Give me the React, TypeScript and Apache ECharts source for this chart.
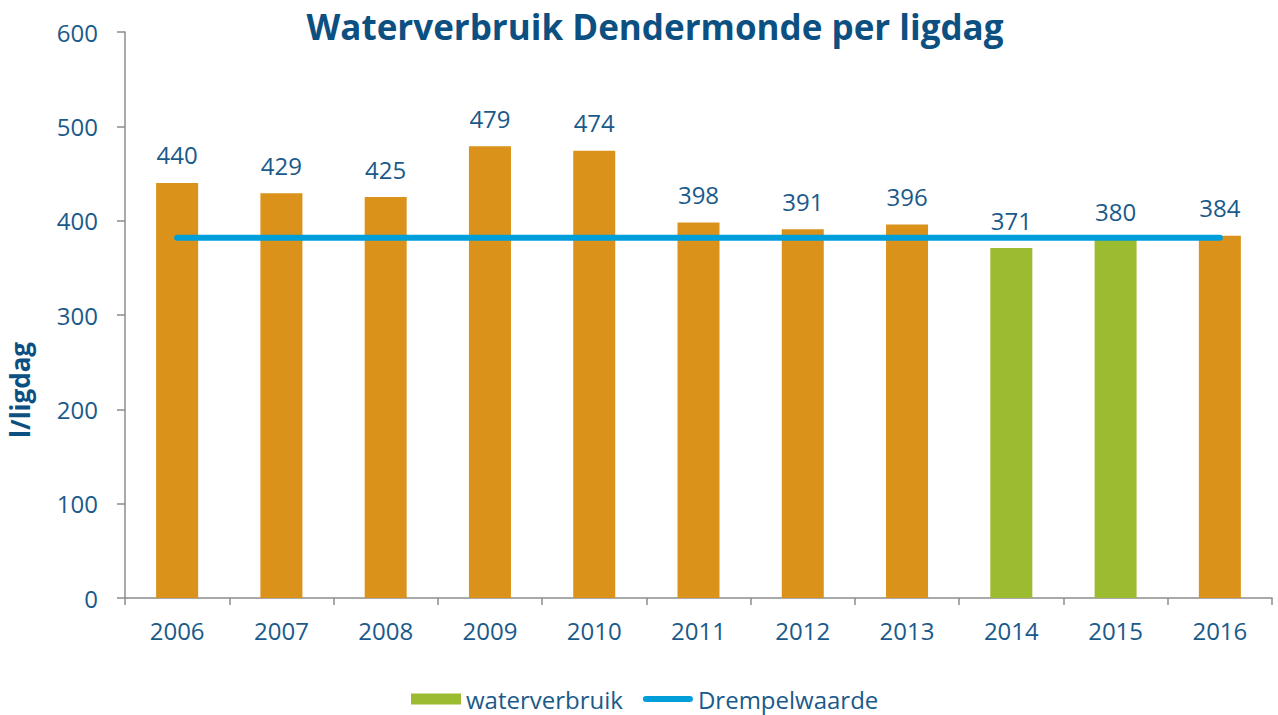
import React, { useEffect, useRef } from "react";
import * as echarts from "echarts";

const years = ["2006", "2007", "2008", "2009", "2010", "2011", "2012", "2013", "2014", "2015", "2016"];
const usage = [440, 429, 425, 479, 474, 398, 391, 396, 371, 380, 384];
const greenYears = ["2014", "2015"];
const threshold = [382, 382, 382, 382, 382, 382, 382, 382, 382, 382, 382];
const yTicks = [0, 100, 200, 300, 400, 500, 600];

const ORANGE = "#DB921A";
const GREEN = "#9BBB30";
const BLUE_LINE = "#009FDA";
const TEXT = "#1A5A8A";
const TITLE = "#0C5082";
const FONT = "'Open Sans', 'Noto Sans', sans-serif";

export default function App() {
  const ref = useRef<HTMLDivElement>(null);
  useEffect(() => {
    if (!ref.current) return;
    const chart = echarts.init(ref.current, undefined, { renderer: "svg" });
    chart.setOption({
      animation: false,
      textStyle: { fontFamily: FONT },
      title: {
        text: "Waterverbruik Dendermonde per ligdag",
        left: 650,
        textAlign: "center",
        top: 4,
        textStyle: { fontFamily: FONT, fontSize: 35, fontWeight: "bold", color: TITLE },
      },
      graphic: [
        {
          type: "text",
          x: 20,
          y: 390,
          rotation: Math.PI / 2,
          style: {
            text: "l/ligdag",
            fill: TITLE,
            font: "bold 26px 'Open Sans', sans-serif",
            align: "center",
            verticalAlign: "middle",
          },
        },
      ],
      legend: {
        bottom: -1,
        left: 406,
        itemGap: 20,
        itemWidth: 50,
        itemHeight: 11,
        textStyle: { fontFamily: FONT, fontSize: 24, color: TEXT },
        data: [
          { name: "waterverbruik", icon: "rect" },
          {
            name: "Drempelwaarde",
            icon: "path://M3,0 L49,0 A3,3 0 0 1 49,6 L3,6 A3,3 0 0 1 3,0 Z",
          },
        ],
      },
      grid: { left: 125, right: 6, top: 32, bottom: 117, outerBoundsMode: "none", containLabel: false },
      xAxis: {
        type: "category",
        data: years,
        axisLine: { lineStyle: { color: "#8C8C8C", width: 1.5 } },
        axisTick: { show: true, length: 7, lineStyle: { color: "#8C8C8C", width: 1.5 } },
        axisLabel: { color: TEXT, fontSize: 24, margin: 20, fontFamily: FONT },
      },
      yAxis: {
        type: "value",
        min: yTicks[0],
        max: yTicks[yTicks.length - 1],
        interval: 100,
        axisLine: { show: true, lineStyle: { color: "#8C8C8C", width: 1.5 } },
        axisTick: { show: true, length: 8, lineStyle: { color: "#8C8C8C", width: 1.5 } },
        axisLabel: { color: TEXT, fontSize: 24, margin: 27, fontFamily: FONT },
        splitLine: { show: false },
      },
      series: [
        {
          name: "waterverbruik",
          type: "bar",
          barWidth: 42,
          itemStyle: { color: GREEN },
          label: {
            show: true,
            position: "top",
            distance: 16,
            color: TEXT,
            fontSize: 24,
            fontFamily: FONT,
          },
          data: usage.map((v, i) => ({
            value: v,
            itemStyle: { color: greenYears.includes(years[i]) ? GREEN : ORANGE },
          })),
        },
        {
          name: "Drempelwaarde",
          type: "line",
          symbol: "none",
          lineStyle: { color: BLUE_LINE, width: 6, cap: "round" },
          itemStyle: { color: BLUE_LINE },
          data: threshold,
          z: 3,
        },
      ],
    });
    return () => chart.dispose();
  }, []);
  return <div ref={ref} style={{ width: 1278, height: 715, position: "absolute", left: 0, top: 0 }} />;
}
